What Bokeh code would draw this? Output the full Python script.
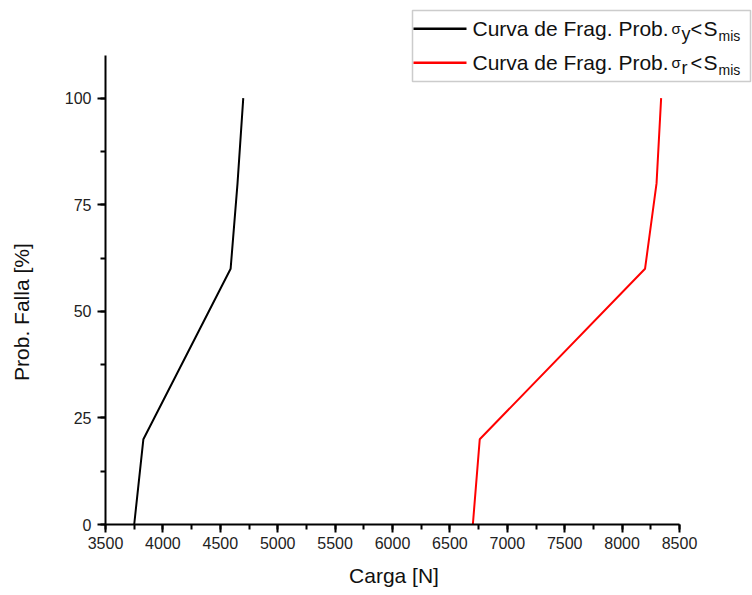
from bokeh.plotting import figure
from bokeh.models import Range1d, FixedTicker, Label, BoxAnnotation
from bokeh.embed import file_html
from bokeh.resources import INLINE

# Data
carga_y = [3750, 3830, 4590, 4650, 4700]
prob_y = [0, 20, 60, 80, 100]
carga_r = [6700, 6760, 8200, 8300, 8340]
prob_r = [0, 20, 60, 80, 100]

x_ticks = list(range(3500, 8501, 500))
x_minor = list(range(3500, 8501, 250))
y_ticks = [0, 25, 50, 75, 100]
y_minor = [0, 12.5, 25, 37.5, 50, 62.5, 75, 87.5, 100]
x_lo, x_hi = 3500, 8500
y_lo, y_hi = 0, 110

x_title = "Carga [N]"
y_title = "Prob. Falla [%]"
legend_main = "Curva de Frag. Prob."
legend_subs = ["y", "r"]

FONT = "Liberation Sans"
NBSP = "\u00a0"

# layout (pixels): axes drawn from x=105..679 and y=524..55
W, H = 752, 595
AX_L, AX_R, AX_T, AX_B = 105, 679, 55, 524
# the frame covers the whole upper-right area so the legend is not clipped;
# axes are limited with bounds to the drawn span
x_end = x_lo + (x_hi - x_lo) * (W - AX_L) / (AX_R - AX_L)
y_end = y_lo + (y_hi - y_lo) * AX_B / (AX_B - AX_T)

p = figure(width=W, height=H, output_backend="svg", toolbar_location=None,
           x_range=Range1d(x_lo, x_end), y_range=Range1d(y_lo, y_end),
           min_border_left=AX_L, min_border_right=0, min_border_top=0,
           min_border_bottom=H - AX_B)
p.outline_line_color = None
p.xgrid.visible = False
p.ygrid.visible = False
p.background_fill_color = "white"
p.border_fill_color = "white"

p.line(carga_y, prob_y, line_color="black", line_width=2)
p.line(carga_r, prob_r, line_color="red", line_width=2)

p.xaxis.ticker = FixedTicker(ticks=x_ticks, minor_ticks=x_minor)
p.yaxis.ticker = FixedTicker(ticks=y_ticks, minor_ticks=y_minor)
p.xaxis.bounds = (x_lo, x_hi)
p.yaxis.bounds = (y_lo, y_hi)

for ax in (p.xaxis[0], p.yaxis[0]):
    ax.axis_line_width = 2
    ax.axis_line_color = "black"
    ax.major_tick_line_width = 2
    ax.minor_tick_line_width = 2
    ax.major_tick_in = 0
    ax.minor_tick_in = 0
    ax.major_tick_out = 8
    ax.minor_tick_out = 5
    ax.major_label_text_font = FONT
    ax.major_label_text_font_size = "16px"
    ax.major_label_text_color = "#222222"
    ax.axis_label_text_font = FONT
    ax.axis_label_text_font_size = "21px"
    ax.axis_label_text_font_style = "normal"
    ax.axis_label_text_color = "#111111"

# trailing no-break spaces move the centred labels to where the reference has them
p.xaxis.axis_label = x_title + NBSP * 12
p.yaxis.axis_label = y_title + NBSP * 17
p.xaxis.major_label_standoff = 4
p.yaxis.major_label_standoff = 6
p.xaxis.axis_label_standoff = 12
p.yaxis.axis_label_standoff = 29

# Legend (drawn by hand so that the subscripts can be shown)
p.add_layout(BoxAnnotation(left=412, right=750, top=10, bottom=81,
                           left_units="canvas", right_units="canvas",
                           top_units="canvas", bottom_units="canvas",
                           fill_color="white", fill_alpha=1.0,
                           line_color="#555555", line_width=1.5))

colors = ["black", "red"]
for i, (color, sub) in enumerate(zip(colors, legend_subs)):
    base = 37.5 + 34 * i
    p.add_layout(BoxAnnotation(left=413, right=466, top=base - 10.5, bottom=base - 8,
                               left_units="canvas", right_units="canvas",
                               top_units="canvas", bottom_units="canvas",
                               fill_color=color, fill_alpha=1.0, line_color=None))
    parts = [
        (legend_main, 472, 0, 21),
        ("σ", 671, -3, 15),
        (sub, 681, 4, 18),
        ("<", 690, 0, 20),
        ("S", 703, 0, 21),
        ("mis", 718, 4, 14),
    ]
    for txt, x, dy, size in parts:
        p.add_layout(Label(x=x, y=base + dy - 0.45 * size,
                           x_units="canvas", y_units="canvas",
                           text=txt, text_font=FONT, text_font_size=f"{size}px",
                           text_color="#111111", text_baseline="alphabetic",
                           text_align="left"))

open("out.html", "w").write(file_html(p, INLINE))
